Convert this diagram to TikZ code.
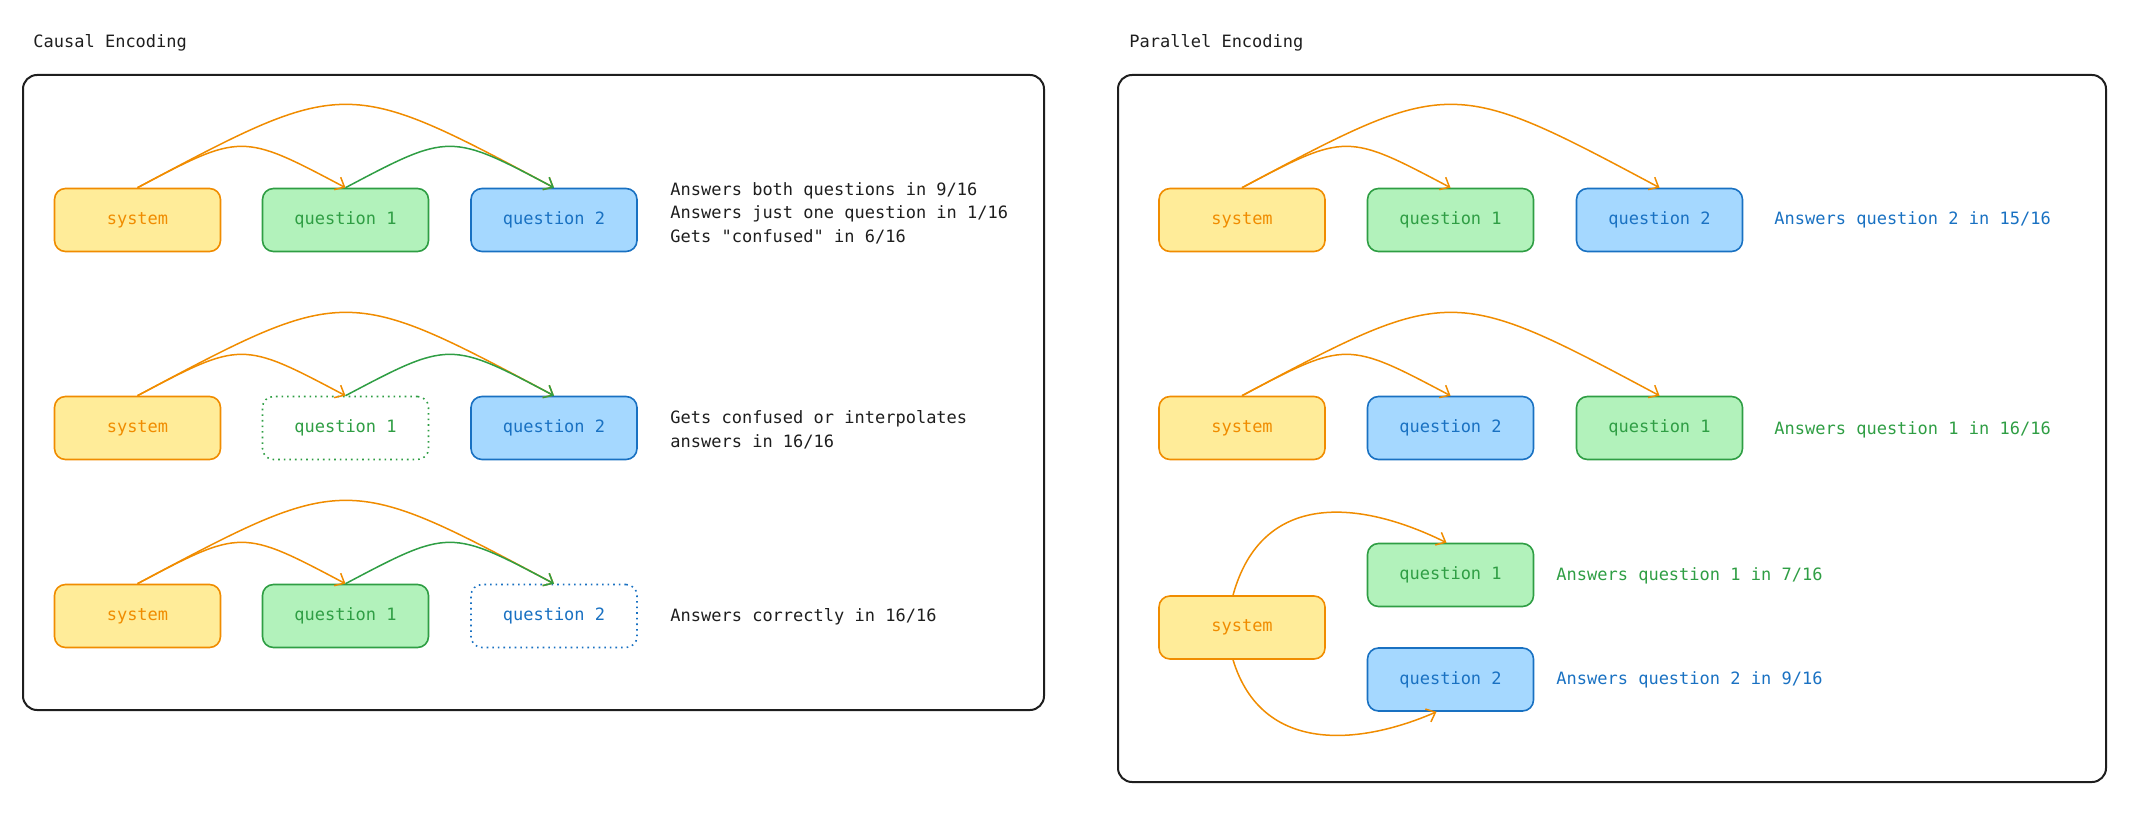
\documentclass[tikz,border=0pt]{standalone}
\usepackage{fontspec}
\setmonofont{DejaVu Sans Mono}
\usetikzlibrary{arrows.meta}
\definecolor{ostroke}{HTML}{F08C00}
\definecolor{yfill}{HTML}{FFEC99}
\definecolor{gstroke}{HTML}{2F9E44}
\definecolor{gfill}{HTML}{B2F2BB}
\definecolor{bstroke}{HTML}{1971C2}
\definecolor{bfill}{HTML}{A5D8FF}
\definecolor{ink}{HTML}{1E1E1E}
\begin{document}
\begin{tikzpicture}[x=0.5pt,y=-0.5pt,
  every node/.style={font=\ttfamily\fontsize{8.5}{11.75}\selectfont},
  box/.style={rounded corners=5.5pt, line width=0.8pt, minimum width=83pt, minimum height=31.5pt, inner sep=0pt},
  sysbox/.style={box, draw=ostroke, fill=yfill, text=ostroke},
  qgreen/.style={box, draw=gstroke, fill=gfill, text=gstroke},
  qblue/.style={box, draw=bstroke, fill=bfill, text=bstroke},
  qgreendot/.style={box, draw=gstroke, fill=white, text=gstroke, dotted},
  qbluedot/.style={box, draw=bstroke, fill=white, text=bstroke, dotted},
  arr/.style={-{Straight Barb[length=4pt,width=7pt]}, line width=0.75pt},
  oarr/.style={arr, draw=ostroke},
  garr/.style={arr, draw=gstroke},
  panel/.style={draw=ink, line width=1pt, rounded corners=7pt},
  lbl/.style={anchor=west, align=left, inner sep=0pt, text=ink},
]
\useasboundingbox (0,0) rectangle (2140,823);

% titles
\node[lbl] (t1) at (33,43) {Causal Encoding};
\node[lbl] (t2) at (1129,43) {Parallel Encoding};

% panels
\draw[panel] (23,75) rectangle (1044,710);
\draw[panel] (1118,75) rectangle (2106,782);

% ---------- Causal, row 1
\node[sysbox] (s1) at (137.5,220) {system};
\node[qgreen] (a1) at (345.5,220) {question 1};
\node[qblue]  (b1) at (554,220) {question 2};
\draw[oarr] (s1.north) .. controls +(208,-111) and +(-208,-111) .. (b1.north);
\draw[oarr] (s1.north) .. controls +(104,-55) and +(-104,-55) .. (a1.north);
\draw[garr] (a1.north) .. controls +(104,-55) and +(-104,-55) .. (b1.north);
\node[lbl] (l1) at (670,213) {Answers both questions in 9/16\\Answers just one question in 1/16\\Gets "confused" in 6/16};

% ---------- Causal, row 2
\node[sysbox]    (s2) at (137.5,428) {system};
\node[qgreendot] (a2) at (345.5,428) {question 1};
\node[qblue]     (b2) at (554,428) {question 2};
\draw[oarr] (s2.north) .. controls +(208,-111) and +(-208,-111) .. (b2.north);
\draw[oarr] (s2.north) .. controls +(104,-55) and +(-104,-55) .. (a2.north);
\draw[garr] (a2.north) .. controls +(104,-55) and +(-104,-55) .. (b2.north);
\node[lbl] (l2) at (670,430) {Gets confused or interpolates\\answers in 16/16};

% ---------- Causal, row 3
\node[sysbox]   (s3) at (137.5,616) {system};
\node[qgreen]   (a3) at (345.5,616) {question 1};
\node[qbluedot] (b3) at (554,616) {question 2};
\draw[oarr] (s3.north) .. controls +(208,-111) and +(-208,-111) .. (b3.north);
\draw[oarr] (s3.north) .. controls +(104,-55) and +(-104,-55) .. (a3.north);
\draw[garr] (a3.north) .. controls +(104,-55) and +(-104,-55) .. (b3.north);
\node[lbl] (l3) at (670,617) {Answers correctly in 16/16};

% ---------- Parallel, row 1
\node[sysbox] (p1s) at (1242,220) {system};
\node[qgreen] (p1a) at (1450.5,220) {question 1};
\node[qblue]  (p1b) at (1659.5,220) {question 2};
\draw[oarr] (p1s.north) .. controls +(208,-111) and +(-208,-111) .. (p1b.north);
\draw[oarr] (p1s.north) .. controls +(104,-55) and +(-104,-55) .. (p1a.north);
\node[lbl, text=bstroke] (pl1) at (1774,220) {Answers question 2 in 15/16};

% ---------- Parallel, row 2
\node[sysbox] (p2s) at (1242,428) {system};
\node[qblue]  (p2b) at (1450.5,428) {question 2};
\node[qgreen] (p2a) at (1659.5,428) {question 1};
\draw[oarr] (p2s.north) .. controls +(208,-111) and +(-208,-111) .. (p2a.north);
\draw[oarr] (p2s.north) .. controls +(104,-55) and +(-104,-55) .. (p2b.north);
\node[lbl, text=gstroke] (pl2) at (1774,430) {Answers question 1 in 16/16};

% ---------- Parallel, row 3
\node[sysbox] (p3s) at (1242,627.5) {system};
\node[qgreen] (p3a) at (1450.5,575) {question 1};
\node[qblue]  (p3b) at (1450.5,679.5) {question 2};
\draw[oarr] ([xshift=-4.5pt]p3s.north) .. controls (1262,490) and (1360,500) .. ([xshift=-2pt]p3a.north);
\draw[oarr] ([xshift=-4.5pt]p3s.south) .. controls (1262,755) and (1360,745) .. ([xshift=-7pt]p3b.south);
\node[lbl, text=gstroke] (pl3) at (1556,576) {Answers question 1 in 7/16};
\node[lbl, text=bstroke] (pl4) at (1556,680) {Answers question 2 in 9/16};
\end{tikzpicture}
\end{document}
